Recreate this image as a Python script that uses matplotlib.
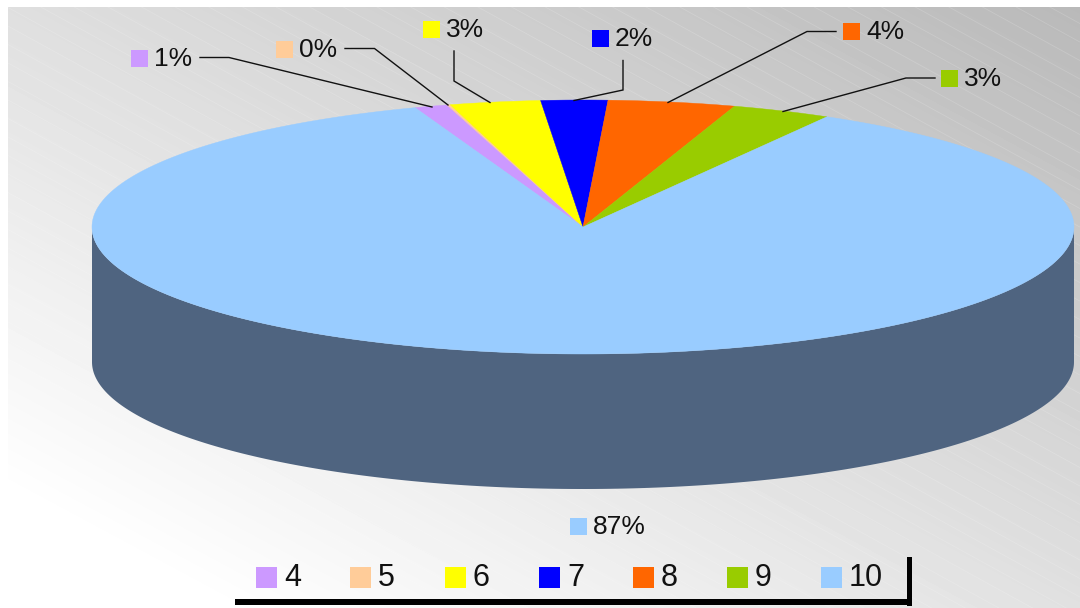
import numpy as np
import matplotlib
matplotlib.use("Agg")
import matplotlib.pyplot as plt
from matplotlib.collections import LineCollection
from matplotlib.patches import Rectangle

plt.rcParams['font.family'] = ['Liberation Sans', 'DejaVu Sans']

categories = ['4', '5', '6', '7', '8', '9', '10']
values = [1.1, 0.1, 3.0, 2.2, 4.2, 3.3, 86.6]
colors = ['#CC99FF', '#FFCC99', '#FFFF00', '#0000FF', '#FF6600', '#99CC00', '#99CCFF']

# disc geometry, in pixels
cx, cy = 583, 227
rx, ry = 491, 127
depth = 135
start_angle = -20

# label square (left, top), text x, text y, leader path
label_pos = {
    '4': ((131, 50), 154, 59, [(200, 57.5), (229, 57.5), (432, 107)]),
    '5': ((276, 41), 299, 50, [(345, 48.5), (374.5, 48.5), (448, 105)]),
    '6': ((423, 21), 446, 30, [(454, 51), (454, 81), (490, 102.5)]),
    '7': ((592, 30), 615, 39, [(623, 60.5), (623, 90), (574, 100.5)]),
    '8': ((843, 23), 866, 32, [(836, 31.5), (807, 31.5), (668, 102.5)]),
    '9': ((941, 70), 964, 79, [(935, 78), (906, 78), (783, 111.5)]),
    '10': ((570, 518), 593, 527, None),
}
legend_x = [256, 350, 445, 539, 633, 727, 821]


def rim(a):
    # a is degrees clockwise from the top of the disc
    t = np.radians(a)
    return cx + rx * np.sin(t), cy - ry * np.cos(t)


fig = plt.figure(figsize=(10.8, 6.08), dpi=100)
ax = fig.add_axes([0, 0, 1, 1])
ax.axis('off')

# background gradient
xx, yy = np.meshgrid(np.arange(8, 1080), np.arange(7, 608))
grey = np.clip(223 - 0.0355 * (xx - 10) + 0.066 * (yy - 10), 0, 255) / 255
ax.imshow(grey, cmap='gray', vmin=0, vmax=1, extent=(8, 1080, 608, 7),
          aspect='auto', zorder=0, interpolation='bilinear')
ax.set_xlim(0, 1080)
ax.set_ylim(608, 0)

# faint diagonal stripes
segs = [[(8, y), (1080, y + 0.55 * 1072)] for y in np.arange(-640, 608, 18.5)]
stripes = LineCollection(segs, colors='white', linewidths=0.6, alpha=0.16, zorder=1)
stripes.set_clip_path(Rectangle((8, 7), 1072, 601, transform=ax.transData))
ax.add_collection(stripes)

# side wall
a = np.linspace(90, 270, 200)
wx, wy = rim(a)
ax.fill(np.r_[wx, wx[::-1]], np.r_[wy + depth, wy[::-1]], color='#4F6480', lw=0, zorder=2)

# top face
angle = start_angle
total = sum(values)
for v, c in zip(values, colors):
    sweep = 360 * v / total
    a = np.linspace(angle, angle + sweep, max(int(sweep * 3), 4))
    px, py = rim(a)
    ax.fill(np.r_[cx, px], np.r_[cy, py], color=c, lw=0.3, zorder=3)
    angle += sweep

# value labels and leaders
for cat, v, c in zip(categories, values, colors):
    (sx, sy), tx, ty, path = label_pos[cat]
    ax.add_patch(Rectangle((sx, sy), 17, 17, color=c, lw=0, zorder=4))
    ax.text(tx, ty, f"{round(v)}%", fontsize=19, color='#111111', va='center', ha='left', zorder=4)
    if path:
        ax.plot(*zip(*path), color='#111111', lw=1, zorder=4, solid_joinstyle='miter')

# legend
for x, cat, c in zip(legend_x, categories, colors):
    ax.add_patch(Rectangle((x, 567), 21, 21, color=c, lw=0, zorder=4))
    ax.text(x + 28, 577.5, cat, fontsize=22, color='#111111', va='center', ha='left', zorder=4)

# heavy frame under the legend
ax.add_patch(Rectangle((235, 599), 677, 6, color='black', lw=0, zorder=5))
ax.add_patch(Rectangle((907, 557), 5, 49, color='black', lw=0, zorder=5))

fig.savefig("out.png", dpi=100)
